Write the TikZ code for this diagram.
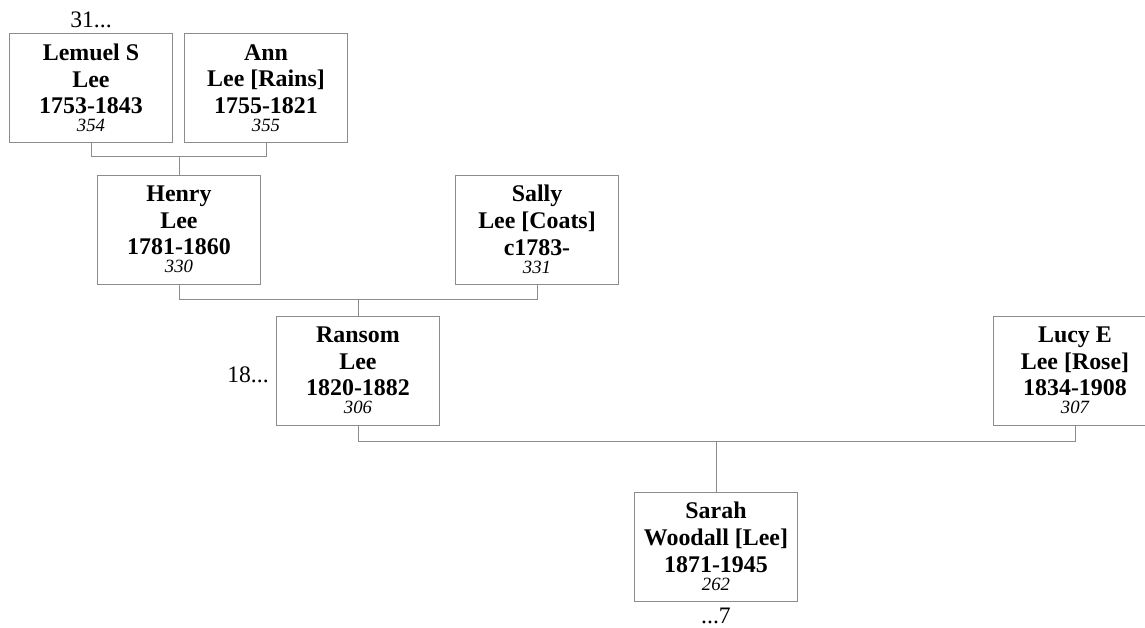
\documentclass[tikz,border=0pt]{standalone}
\usepackage{fontspec}
\setmainfont{Liberation Serif}
\usetikzlibrary{positioning}
\definecolor{boxgray}{rgb}{0.55,0.55,0.55}

% italic record number under the dates
\newcommand{\refno}[1]{\\[-6.2pt]{\fontsize{13.3}{15}\selectfont\mdseries\itshape #1}}

\begin{document}
\begin{tikzpicture}[x=0.025cm, y=-0.025cm,
  person/.style={draw=boxgray, line width=0.7pt, minimum width=4.075cm,
    minimum height=2.725cm, align=center, inner sep=0pt,
    font=\fontsize{17}{19}\selectfont\bfseries,
    execute at begin node=\rule{0pt}{17.5pt}},
  link/.style={draw=boxgray, line width=0.7pt},
  more/.style={inner sep=0pt, font=\fontsize{16.8}{19}\selectfont}]

\useasboundingbox (0,0) rectangle (1145,627);

\node (lemuel) at (91,88) [person]{Lemuel S\\Lee\\1753-1843\refno{354}};
\node (ann) at (266,88) [person]{Ann\\Lee [Rains]\\1755-1821\refno{355}};
\node (henry) at (179,229.5) [person]{Henry\\Lee\\1781-1860\refno{330}};
\node (sally) at (537,229.5) [person]{Sally\\Lee [Coats]\\c1783-\refno{331}};
\node (ransom) at (358,370.5) [person]{Ransom\\Lee\\1820-1882\refno{306}};
\node (lucy) at (1075,370.5) [person]{Lucy E\\Lee [Rose]\\1834-1908\refno{307}};
\node (sarah) at (716,546.5) [person]{Sarah\\Woodall [Lee]\\1871-1945\refno{262}};

\node (up1) [more, above=3.6pt of lemuel] {31...};
\node (up2) [more, left=5pt of ransom, yshift=-3pt] {18...};
\node (down1) [more, below=4.2pt of sarah] {...7};

% family bars
\path (henry.north) ++(0,-18) coordinate (bar1);
\path (ransom.north) ++(0,-16) coordinate (bar2);
\path (sarah.north) ++(0,-50) coordinate (bar3);

\draw[link] (lemuel.south) |- (bar1) -| (ann.south);
\draw[link] (bar1) -- (henry.north);
\draw[link] (henry.south) |- (bar2) -| (sally.south);
\draw[link] (bar2) -- (ransom.north);
\draw[link] (ransom.south) |- (bar3) -| (lucy.south);
\draw[link] (bar3) -- (sarah.north);

\end{tikzpicture}
\end{document}
